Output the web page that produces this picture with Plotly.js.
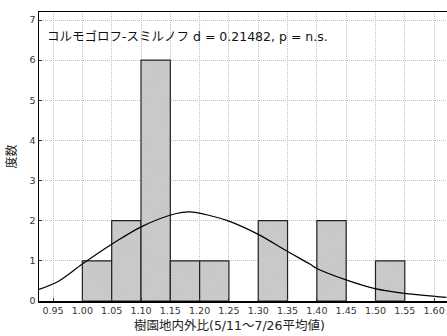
<!DOCTYPE html>
<html>
<head>
<meta charset="utf-8">
<script src="https://cdn.plot.ly/plotly-3.0.1.min.js"></script>
<style>html,body{margin:0;padding:0;background:#fff;}#chart{width:447px;height:336px;}</style>
</head>
<body>
<div id="chart"></div>
<script>
// Histogram bins (left edge) and counts
const binLeft = [1.00, 1.05, 1.10, 1.15, 1.20, 1.30, 1.40, 1.50];
const counts  = [1, 2, 6, 1, 1, 2, 2, 1];
const binWidth = 0.05;

// Expected-normal curve
const curveX = [0.926, 0.960, 1.000, 1.052, 1.102, 1.160, 1.183, 1.217, 1.250, 1.300, 1.348, 1.388, 1.400, 1.451, 1.499, 1.550, 1.621];
const curveY = [0.29, 0.50, 0.92, 1.43, 1.86, 2.18, 2.22, 2.13, 1.99, 1.66, 1.25, 0.92, 0.81, 0.52, 0.31, 0.19, 0.09];

const xTicks = [0.95, 1.00, 1.05, 1.10, 1.15, 1.20, 1.25, 1.30, 1.35, 1.40, 1.45, 1.50, 1.55, 1.60];
const yTicks = [0, 1, 2, 3, 4, 5, 6, 7];

const annText = "コルモゴロフ-スミルノフ d = 0.21482, p = n.s.";
const xTitle = "樹園地内外比(5/11～7/26平均値)";
const yTitle = "度数";

const FONT = "'DejaVu Sans', 'Noto Sans CJK JP', sans-serif";

const bars = {
  type: 'bar',
  x: binLeft.map(v => v + binWidth / 2),
  y: counts,
  width: binWidth,
  marker: {
    color: '#cdcdcd',
    line: {color: '#222', width: 1.2},
    pattern: {shape: '/', fgcolor: '#b2b2b2', bgcolor: '#d2d2d2', size: 2, solidity: 0.4}
  },
  hoverinfo: 'skip'
};

const curve = {
  type: 'scatter',
  mode: 'lines',
  x: curveX,
  y: curveY,
  line: {color: '#000', width: 1.2, shape: 'spline'},
  hoverinfo: 'skip'
};

const layout = {
  width: 447, height: 336,
  margin: {l: 39, r: 0, t: 12, b: 35},
  paper_bgcolor: '#fff',
  plot_bgcolor: '#fff',
  showlegend: false,
  bargap: 0,
  font: {family: FONT, color: '#222', size: 10},
  xaxis: {
    range: [0.926, 1.622],
    tickvals: xTicks,
    ticktext: xTicks.map(v => v.toFixed(2)),
    ticks: 'inside', ticklen: 3, tickcolor: '#333',
    showline: true, linecolor: '#000', linewidth: 1.5, mirror: true,
    showgrid: true, gridcolor: '#c0c0c0', griddash: '1px,1px', gridwidth: 1,
    zeroline: false,
    tickfont: {family: FONT, size: 9.5, color: '#333'}
  },
  yaxis: {
    range: [0, 7.2],
    tickvals: yTicks,
    ticks: 'inside', ticklen: 3, tickcolor: '#333',
    showline: true, linecolor: '#000', linewidth: 1.5, mirror: true,
    showgrid: true, gridcolor: '#c0c0c0', griddash: '1px,1px', gridwidth: 1,
    zeroline: false,
    tickfont: {family: FONT, size: 9.5, color: '#333'},
    title: {text: yTitle, font: {family: FONT, size: 12, color: '#222'}, standoff: 10}
  },
  annotations: [{
    xref: 'paper', yref: 'paper',
    x: 0.014, y: 0.915, xanchor: 'left', yanchor: 'middle',
    text: annText, showarrow: false,
    font: {family: FONT, size: 12.5, color: '#111'}
  }, {
    xref: 'paper', yref: 'paper',
    x: 0.468, y: -0.085, xanchor: 'center', yanchor: 'middle',
    text: xTitle, showarrow: false,
    font: {family: FONT, size: 12.5, color: '#222'}
  }]
};

Plotly.newPlot('chart', [bars, curve], layout, {staticPlot: true, displayModeBar: false});
</script>
</body>
</html>
